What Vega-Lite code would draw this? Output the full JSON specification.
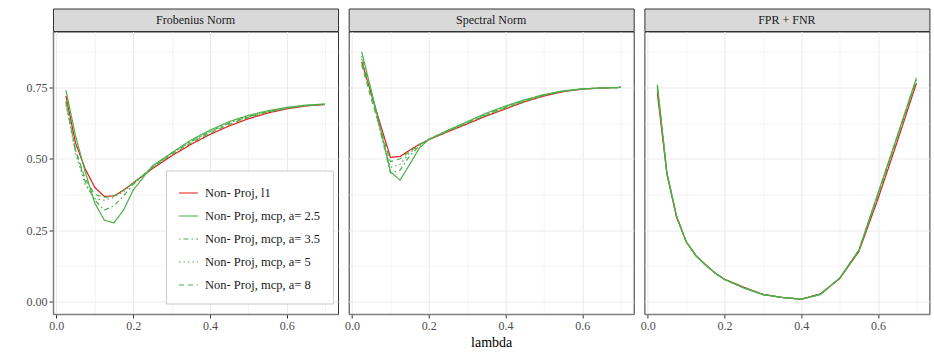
{
"$schema": "https://vega.github.io/schema/vega-lite/v6.json",
"padding": {"left": 25, "top": 7.5, "right": 5, "bottom": 5},
"background": "white",
"config": {
  "font": "Liberation Serif",
  "axis": {"labelFont": "Liberation Serif", "labelFontSize": 12, "labelColor": "#4d4d4d", "tickColor": "#333333", "tickSize": 4, "tickWidth": 1, "labelPadding": 2, "domainColor": "#7f7f7f", "domainWidth": 1.5, "gridColor": "#ebebeb", "titleFont": "Liberation Serif", "titleFontSize": 14, "titleColor": "#000000", "titleFontWeight": "normal", "labelFlush": false, "labelOverlap": false, "titlePadding": 4},
  "view": {"stroke": "#333333", "strokeWidth": 1},
  "line": {"strokeWidth": 1.2}
},
"datasets": {
  "d": [
{"p":"Frobenius Norm","m":"Non- Proj, l1","x":0.025,"y":0.72},
{"p":"Frobenius Norm","m":"Non- Proj, l1","x":0.05,"y":0.555},
{"p":"Frobenius Norm","m":"Non- Proj, l1","x":0.075,"y":0.465},
{"p":"Frobenius Norm","m":"Non- Proj, l1","x":0.1,"y":0.40},
{"p":"Frobenius Norm","m":"Non- Proj, l1","x":0.125,"y":0.368},
{"p":"Frobenius Norm","m":"Non- Proj, l1","x":0.15,"y":0.37},
{"p":"Frobenius Norm","m":"Non- Proj, l1","x":0.175,"y":0.39},
{"p":"Frobenius Norm","m":"Non- Proj, l1","x":0.2,"y":0.415},
{"p":"Frobenius Norm","m":"Non- Proj, l1","x":0.25,"y":0.465},
{"p":"Frobenius Norm","m":"Non- Proj, l1","x":0.3,"y":0.51},
{"p":"Frobenius Norm","m":"Non- Proj, l1","x":0.35,"y":0.55},
{"p":"Frobenius Norm","m":"Non- Proj, l1","x":0.4,"y":0.585},
{"p":"Frobenius Norm","m":"Non- Proj, l1","x":0.45,"y":0.615},
{"p":"Frobenius Norm","m":"Non- Proj, l1","x":0.5,"y":0.64},
{"p":"Frobenius Norm","m":"Non- Proj, l1","x":0.55,"y":0.66},
{"p":"Frobenius Norm","m":"Non- Proj, l1","x":0.6,"y":0.675},
{"p":"Frobenius Norm","m":"Non- Proj, l1","x":0.65,"y":0.685},
{"p":"Frobenius Norm","m":"Non- Proj, l1","x":0.7,"y":0.69},
{"p":"Frobenius Norm","m":"Non- Proj, mcp, a= 2.5","x":0.025,"y":0.74},
{"p":"Frobenius Norm","m":"Non- Proj, mcp, a= 2.5","x":0.05,"y":0.58},
{"p":"Frobenius Norm","m":"Non- Proj, mcp, a= 2.5","x":0.075,"y":0.455},
{"p":"Frobenius Norm","m":"Non- Proj, mcp, a= 2.5","x":0.1,"y":0.345},
{"p":"Frobenius Norm","m":"Non- Proj, mcp, a= 2.5","x":0.125,"y":0.285},
{"p":"Frobenius Norm","m":"Non- Proj, mcp, a= 2.5","x":0.15,"y":0.275},
{"p":"Frobenius Norm","m":"Non- Proj, mcp, a= 2.5","x":0.175,"y":0.32},
{"p":"Frobenius Norm","m":"Non- Proj, mcp, a= 2.5","x":0.2,"y":0.39},
{"p":"Frobenius Norm","m":"Non- Proj, mcp, a= 2.5","x":0.25,"y":0.475},
{"p":"Frobenius Norm","m":"Non- Proj, mcp, a= 2.5","x":0.3,"y":0.52},
{"p":"Frobenius Norm","m":"Non- Proj, mcp, a= 2.5","x":0.35,"y":0.565},
{"p":"Frobenius Norm","m":"Non- Proj, mcp, a= 2.5","x":0.4,"y":0.60},
{"p":"Frobenius Norm","m":"Non- Proj, mcp, a= 2.5","x":0.45,"y":0.63},
{"p":"Frobenius Norm","m":"Non- Proj, mcp, a= 2.5","x":0.5,"y":0.652},
{"p":"Frobenius Norm","m":"Non- Proj, mcp, a= 2.5","x":0.55,"y":0.668},
{"p":"Frobenius Norm","m":"Non- Proj, mcp, a= 2.5","x":0.6,"y":0.68},
{"p":"Frobenius Norm","m":"Non- Proj, mcp, a= 2.5","x":0.65,"y":0.688},
{"p":"Frobenius Norm","m":"Non- Proj, mcp, a= 2.5","x":0.7,"y":0.692},
{"p":"Frobenius Norm","m":"Non- Proj, mcp, a= 3.5","x":0.025,"y":0.70},
{"p":"Frobenius Norm","m":"Non- Proj, mcp, a= 3.5","x":0.05,"y":0.53},
{"p":"Frobenius Norm","m":"Non- Proj, mcp, a= 3.5","x":0.075,"y":0.42},
{"p":"Frobenius Norm","m":"Non- Proj, mcp, a= 3.5","x":0.1,"y":0.355},
{"p":"Frobenius Norm","m":"Non- Proj, mcp, a= 3.5","x":0.125,"y":0.32},
{"p":"Frobenius Norm","m":"Non- Proj, mcp, a= 3.5","x":0.15,"y":0.335},
{"p":"Frobenius Norm","m":"Non- Proj, mcp, a= 3.5","x":0.175,"y":0.37},
{"p":"Frobenius Norm","m":"Non- Proj, mcp, a= 3.5","x":0.2,"y":0.41},
{"p":"Frobenius Norm","m":"Non- Proj, mcp, a= 3.5","x":0.25,"y":0.47},
{"p":"Frobenius Norm","m":"Non- Proj, mcp, a= 3.5","x":0.3,"y":0.52},
{"p":"Frobenius Norm","m":"Non- Proj, mcp, a= 3.5","x":0.35,"y":0.56},
{"p":"Frobenius Norm","m":"Non- Proj, mcp, a= 3.5","x":0.4,"y":0.595},
{"p":"Frobenius Norm","m":"Non- Proj, mcp, a= 3.5","x":0.45,"y":0.625},
{"p":"Frobenius Norm","m":"Non- Proj, mcp, a= 3.5","x":0.5,"y":0.648},
{"p":"Frobenius Norm","m":"Non- Proj, mcp, a= 3.5","x":0.55,"y":0.665},
{"p":"Frobenius Norm","m":"Non- Proj, mcp, a= 3.5","x":0.6,"y":0.678},
{"p":"Frobenius Norm","m":"Non- Proj, mcp, a= 3.5","x":0.65,"y":0.686},
{"p":"Frobenius Norm","m":"Non- Proj, mcp, a= 3.5","x":0.7,"y":0.691},
{"p":"Frobenius Norm","m":"Non- Proj, mcp, a= 5","x":0.025,"y":0.69},
{"p":"Frobenius Norm","m":"Non- Proj, mcp, a= 5","x":0.05,"y":0.52},
{"p":"Frobenius Norm","m":"Non- Proj, mcp, a= 5","x":0.075,"y":0.41},
{"p":"Frobenius Norm","m":"Non- Proj, mcp, a= 5","x":0.1,"y":0.36},
{"p":"Frobenius Norm","m":"Non- Proj, mcp, a= 5","x":0.125,"y":0.355},
{"p":"Frobenius Norm","m":"Non- Proj, mcp, a= 5","x":0.15,"y":0.365},
{"p":"Frobenius Norm","m":"Non- Proj, mcp, a= 5","x":0.175,"y":0.385},
{"p":"Frobenius Norm","m":"Non- Proj, mcp, a= 5","x":0.2,"y":0.415},
{"p":"Frobenius Norm","m":"Non- Proj, mcp, a= 5","x":0.25,"y":0.47},
{"p":"Frobenius Norm","m":"Non- Proj, mcp, a= 5","x":0.3,"y":0.518},
{"p":"Frobenius Norm","m":"Non- Proj, mcp, a= 5","x":0.35,"y":0.56},
{"p":"Frobenius Norm","m":"Non- Proj, mcp, a= 5","x":0.4,"y":0.595},
{"p":"Frobenius Norm","m":"Non- Proj, mcp, a= 5","x":0.45,"y":0.625},
{"p":"Frobenius Norm","m":"Non- Proj, mcp, a= 5","x":0.5,"y":0.648},
{"p":"Frobenius Norm","m":"Non- Proj, mcp, a= 5","x":0.55,"y":0.665},
{"p":"Frobenius Norm","m":"Non- Proj, mcp, a= 5","x":0.6,"y":0.678},
{"p":"Frobenius Norm","m":"Non- Proj, mcp, a= 5","x":0.65,"y":0.686},
{"p":"Frobenius Norm","m":"Non- Proj, mcp, a= 5","x":0.7,"y":0.691},
{"p":"Frobenius Norm","m":"Non- Proj, mcp, a= 8","x":0.025,"y":0.70},
{"p":"Frobenius Norm","m":"Non- Proj, mcp, a= 8","x":0.05,"y":0.53},
{"p":"Frobenius Norm","m":"Non- Proj, mcp, a= 8","x":0.075,"y":0.43},
{"p":"Frobenius Norm","m":"Non- Proj, mcp, a= 8","x":0.1,"y":0.375},
{"p":"Frobenius Norm","m":"Non- Proj, mcp, a= 8","x":0.125,"y":0.365},
{"p":"Frobenius Norm","m":"Non- Proj, mcp, a= 8","x":0.15,"y":0.37},
{"p":"Frobenius Norm","m":"Non- Proj, mcp, a= 8","x":0.175,"y":0.39},
{"p":"Frobenius Norm","m":"Non- Proj, mcp, a= 8","x":0.2,"y":0.415},
{"p":"Frobenius Norm","m":"Non- Proj, mcp, a= 8","x":0.25,"y":0.468},
{"p":"Frobenius Norm","m":"Non- Proj, mcp, a= 8","x":0.3,"y":0.515},
{"p":"Frobenius Norm","m":"Non- Proj, mcp, a= 8","x":0.35,"y":0.555},
{"p":"Frobenius Norm","m":"Non- Proj, mcp, a= 8","x":0.4,"y":0.59},
{"p":"Frobenius Norm","m":"Non- Proj, mcp, a= 8","x":0.45,"y":0.62},
{"p":"Frobenius Norm","m":"Non- Proj, mcp, a= 8","x":0.5,"y":0.645},
{"p":"Frobenius Norm","m":"Non- Proj, mcp, a= 8","x":0.55,"y":0.663},
{"p":"Frobenius Norm","m":"Non- Proj, mcp, a= 8","x":0.6,"y":0.677},
{"p":"Frobenius Norm","m":"Non- Proj, mcp, a= 8","x":0.65,"y":0.686},
{"p":"Frobenius Norm","m":"Non- Proj, mcp, a= 8","x":0.7,"y":0.691},
{"p":"Spectral Norm","m":"Non- Proj, l1","x":0.025,"y":0.84},
{"p":"Spectral Norm","m":"Non- Proj, l1","x":0.05,"y":0.728},
{"p":"Spectral Norm","m":"Non- Proj, l1","x":0.075,"y":0.615},
{"p":"Spectral Norm","m":"Non- Proj, l1","x":0.1,"y":0.505},
{"p":"Spectral Norm","m":"Non- Proj, l1","x":0.125,"y":0.508},
{"p":"Spectral Norm","m":"Non- Proj, l1","x":0.15,"y":0.53},
{"p":"Spectral Norm","m":"Non- Proj, l1","x":0.175,"y":0.55},
{"p":"Spectral Norm","m":"Non- Proj, l1","x":0.2,"y":0.567},
{"p":"Spectral Norm","m":"Non- Proj, l1","x":0.25,"y":0.595},
{"p":"Spectral Norm","m":"Non- Proj, l1","x":0.3,"y":0.622},
{"p":"Spectral Norm","m":"Non- Proj, l1","x":0.35,"y":0.65},
{"p":"Spectral Norm","m":"Non- Proj, l1","x":0.4,"y":0.675},
{"p":"Spectral Norm","m":"Non- Proj, l1","x":0.45,"y":0.70},
{"p":"Spectral Norm","m":"Non- Proj, l1","x":0.5,"y":0.72},
{"p":"Spectral Norm","m":"Non- Proj, l1","x":0.55,"y":0.735},
{"p":"Spectral Norm","m":"Non- Proj, l1","x":0.6,"y":0.744},
{"p":"Spectral Norm","m":"Non- Proj, l1","x":0.65,"y":0.748},
{"p":"Spectral Norm","m":"Non- Proj, l1","x":0.7,"y":0.75},
{"p":"Spectral Norm","m":"Non- Proj, mcp, a= 2.5","x":0.025,"y":0.875},
{"p":"Spectral Norm","m":"Non- Proj, mcp, a= 2.5","x":0.05,"y":0.74},
{"p":"Spectral Norm","m":"Non- Proj, mcp, a= 2.5","x":0.075,"y":0.60},
{"p":"Spectral Norm","m":"Non- Proj, mcp, a= 2.5","x":0.1,"y":0.455},
{"p":"Spectral Norm","m":"Non- Proj, mcp, a= 2.5","x":0.125,"y":0.425},
{"p":"Spectral Norm","m":"Non- Proj, mcp, a= 2.5","x":0.15,"y":0.48},
{"p":"Spectral Norm","m":"Non- Proj, mcp, a= 2.5","x":0.175,"y":0.537},
{"p":"Spectral Norm","m":"Non- Proj, mcp, a= 2.5","x":0.2,"y":0.568},
{"p":"Spectral Norm","m":"Non- Proj, mcp, a= 2.5","x":0.25,"y":0.60},
{"p":"Spectral Norm","m":"Non- Proj, mcp, a= 2.5","x":0.3,"y":0.63},
{"p":"Spectral Norm","m":"Non- Proj, mcp, a= 2.5","x":0.35,"y":0.66},
{"p":"Spectral Norm","m":"Non- Proj, mcp, a= 2.5","x":0.4,"y":0.685},
{"p":"Spectral Norm","m":"Non- Proj, mcp, a= 2.5","x":0.45,"y":0.707},
{"p":"Spectral Norm","m":"Non- Proj, mcp, a= 2.5","x":0.5,"y":0.725},
{"p":"Spectral Norm","m":"Non- Proj, mcp, a= 2.5","x":0.55,"y":0.738},
{"p":"Spectral Norm","m":"Non- Proj, mcp, a= 2.5","x":0.6,"y":0.745},
{"p":"Spectral Norm","m":"Non- Proj, mcp, a= 2.5","x":0.65,"y":0.748},
{"p":"Spectral Norm","m":"Non- Proj, mcp, a= 2.5","x":0.7,"y":0.75},
{"p":"Spectral Norm","m":"Non- Proj, mcp, a= 3.5","x":0.025,"y":0.86},
{"p":"Spectral Norm","m":"Non- Proj, mcp, a= 3.5","x":0.05,"y":0.73},
{"p":"Spectral Norm","m":"Non- Proj, mcp, a= 3.5","x":0.075,"y":0.59},
{"p":"Spectral Norm","m":"Non- Proj, mcp, a= 3.5","x":0.1,"y":0.45},
{"p":"Spectral Norm","m":"Non- Proj, mcp, a= 3.5","x":0.125,"y":0.46},
{"p":"Spectral Norm","m":"Non- Proj, mcp, a= 3.5","x":0.15,"y":0.51},
{"p":"Spectral Norm","m":"Non- Proj, mcp, a= 3.5","x":0.175,"y":0.545},
{"p":"Spectral Norm","m":"Non- Proj, mcp, a= 3.5","x":0.2,"y":0.568},
{"p":"Spectral Norm","m":"Non- Proj, mcp, a= 3.5","x":0.25,"y":0.60},
{"p":"Spectral Norm","m":"Non- Proj, mcp, a= 3.5","x":0.3,"y":0.628},
{"p":"Spectral Norm","m":"Non- Proj, mcp, a= 3.5","x":0.35,"y":0.657},
{"p":"Spectral Norm","m":"Non- Proj, mcp, a= 3.5","x":0.4,"y":0.682},
{"p":"Spectral Norm","m":"Non- Proj, mcp, a= 3.5","x":0.45,"y":0.705},
{"p":"Spectral Norm","m":"Non- Proj, mcp, a= 3.5","x":0.5,"y":0.724},
{"p":"Spectral Norm","m":"Non- Proj, mcp, a= 3.5","x":0.55,"y":0.737},
{"p":"Spectral Norm","m":"Non- Proj, mcp, a= 3.5","x":0.6,"y":0.745},
{"p":"Spectral Norm","m":"Non- Proj, mcp, a= 3.5","x":0.65,"y":0.748},
{"p":"Spectral Norm","m":"Non- Proj, mcp, a= 3.5","x":0.7,"y":0.75},
{"p":"Spectral Norm","m":"Non- Proj, mcp, a= 5","x":0.025,"y":0.85},
{"p":"Spectral Norm","m":"Non- Proj, mcp, a= 5","x":0.05,"y":0.72},
{"p":"Spectral Norm","m":"Non- Proj, mcp, a= 5","x":0.075,"y":0.59},
{"p":"Spectral Norm","m":"Non- Proj, mcp, a= 5","x":0.1,"y":0.47},
{"p":"Spectral Norm","m":"Non- Proj, mcp, a= 5","x":0.125,"y":0.48},
{"p":"Spectral Norm","m":"Non- Proj, mcp, a= 5","x":0.15,"y":0.52},
{"p":"Spectral Norm","m":"Non- Proj, mcp, a= 5","x":0.175,"y":0.548},
{"p":"Spectral Norm","m":"Non- Proj, mcp, a= 5","x":0.2,"y":0.568},
{"p":"Spectral Norm","m":"Non- Proj, mcp, a= 5","x":0.25,"y":0.598},
{"p":"Spectral Norm","m":"Non- Proj, mcp, a= 5","x":0.3,"y":0.627},
{"p":"Spectral Norm","m":"Non- Proj, mcp, a= 5","x":0.35,"y":0.655},
{"p":"Spectral Norm","m":"Non- Proj, mcp, a= 5","x":0.4,"y":0.68},
{"p":"Spectral Norm","m":"Non- Proj, mcp, a= 5","x":0.45,"y":0.703},
{"p":"Spectral Norm","m":"Non- Proj, mcp, a= 5","x":0.5,"y":0.723},
{"p":"Spectral Norm","m":"Non- Proj, mcp, a= 5","x":0.55,"y":0.737},
{"p":"Spectral Norm","m":"Non- Proj, mcp, a= 5","x":0.6,"y":0.745},
{"p":"Spectral Norm","m":"Non- Proj, mcp, a= 5","x":0.65,"y":0.748},
{"p":"Spectral Norm","m":"Non- Proj, mcp, a= 5","x":0.7,"y":0.75},
{"p":"Spectral Norm","m":"Non- Proj, mcp, a= 8","x":0.025,"y":0.83},
{"p":"Spectral Norm","m":"Non- Proj, mcp, a= 8","x":0.05,"y":0.71},
{"p":"Spectral Norm","m":"Non- Proj, mcp, a= 8","x":0.075,"y":0.60},
{"p":"Spectral Norm","m":"Non- Proj, mcp, a= 8","x":0.1,"y":0.49},
{"p":"Spectral Norm","m":"Non- Proj, mcp, a= 8","x":0.125,"y":0.50},
{"p":"Spectral Norm","m":"Non- Proj, mcp, a= 8","x":0.15,"y":0.525},
{"p":"Spectral Norm","m":"Non- Proj, mcp, a= 8","x":0.175,"y":0.55},
{"p":"Spectral Norm","m":"Non- Proj, mcp, a= 8","x":0.2,"y":0.568},
{"p":"Spectral Norm","m":"Non- Proj, mcp, a= 8","x":0.25,"y":0.597},
{"p":"Spectral Norm","m":"Non- Proj, mcp, a= 8","x":0.3,"y":0.625},
{"p":"Spectral Norm","m":"Non- Proj, mcp, a= 8","x":0.35,"y":0.653},
{"p":"Spectral Norm","m":"Non- Proj, mcp, a= 8","x":0.4,"y":0.678},
{"p":"Spectral Norm","m":"Non- Proj, mcp, a= 8","x":0.45,"y":0.702},
{"p":"Spectral Norm","m":"Non- Proj, mcp, a= 8","x":0.5,"y":0.722},
{"p":"Spectral Norm","m":"Non- Proj, mcp, a= 8","x":0.55,"y":0.736},
{"p":"Spectral Norm","m":"Non- Proj, mcp, a= 8","x":0.6,"y":0.744},
{"p":"Spectral Norm","m":"Non- Proj, mcp, a= 8","x":0.65,"y":0.748},
{"p":"Spectral Norm","m":"Non- Proj, mcp, a= 8","x":0.7,"y":0.75},
{"p":"FPR + FNR","m":"Non- Proj, l1","x":0.025,"y":0.73},
{"p":"FPR + FNR","m":"Non- Proj, l1","x":0.05,"y":0.445},
{"p":"FPR + FNR","m":"Non- Proj, l1","x":0.075,"y":0.295},
{"p":"FPR + FNR","m":"Non- Proj, l1","x":0.1,"y":0.21},
{"p":"FPR + FNR","m":"Non- Proj, l1","x":0.125,"y":0.162},
{"p":"FPR + FNR","m":"Non- Proj, l1","x":0.15,"y":0.13},
{"p":"FPR + FNR","m":"Non- Proj, l1","x":0.175,"y":0.10},
{"p":"FPR + FNR","m":"Non- Proj, l1","x":0.2,"y":0.078},
{"p":"FPR + FNR","m":"Non- Proj, l1","x":0.25,"y":0.05},
{"p":"FPR + FNR","m":"Non- Proj, l1","x":0.3,"y":0.025},
{"p":"FPR + FNR","m":"Non- Proj, l1","x":0.35,"y":0.014},
{"p":"FPR + FNR","m":"Non- Proj, l1","x":0.4,"y":0.008},
{"p":"FPR + FNR","m":"Non- Proj, l1","x":0.45,"y":0.027},
{"p":"FPR + FNR","m":"Non- Proj, l1","x":0.5,"y":0.08},
{"p":"FPR + FNR","m":"Non- Proj, l1","x":0.55,"y":0.175},
{"p":"FPR + FNR","m":"Non- Proj, l1","x":0.6,"y":0.36},
{"p":"FPR + FNR","m":"Non- Proj, l1","x":0.65,"y":0.56},
{"p":"FPR + FNR","m":"Non- Proj, l1","x":0.7,"y":0.765},
{"p":"FPR + FNR","m":"Non- Proj, mcp, a= 2.5","x":0.025,"y":0.76},
{"p":"FPR + FNR","m":"Non- Proj, mcp, a= 2.5","x":0.05,"y":0.45},
{"p":"FPR + FNR","m":"Non- Proj, mcp, a= 2.5","x":0.075,"y":0.30},
{"p":"FPR + FNR","m":"Non- Proj, mcp, a= 2.5","x":0.1,"y":0.21},
{"p":"FPR + FNR","m":"Non- Proj, mcp, a= 2.5","x":0.125,"y":0.16},
{"p":"FPR + FNR","m":"Non- Proj, mcp, a= 2.5","x":0.15,"y":0.128},
{"p":"FPR + FNR","m":"Non- Proj, mcp, a= 2.5","x":0.175,"y":0.10},
{"p":"FPR + FNR","m":"Non- Proj, mcp, a= 2.5","x":0.2,"y":0.077},
{"p":"FPR + FNR","m":"Non- Proj, mcp, a= 2.5","x":0.25,"y":0.047},
{"p":"FPR + FNR","m":"Non- Proj, mcp, a= 2.5","x":0.3,"y":0.024},
{"p":"FPR + FNR","m":"Non- Proj, mcp, a= 2.5","x":0.35,"y":0.014},
{"p":"FPR + FNR","m":"Non- Proj, mcp, a= 2.5","x":0.4,"y":0.008},
{"p":"FPR + FNR","m":"Non- Proj, mcp, a= 2.5","x":0.45,"y":0.024},
{"p":"FPR + FNR","m":"Non- Proj, mcp, a= 2.5","x":0.5,"y":0.082},
{"p":"FPR + FNR","m":"Non- Proj, mcp, a= 2.5","x":0.55,"y":0.18},
{"p":"FPR + FNR","m":"Non- Proj, mcp, a= 2.5","x":0.6,"y":0.38},
{"p":"FPR + FNR","m":"Non- Proj, mcp, a= 2.5","x":0.65,"y":0.58},
{"p":"FPR + FNR","m":"Non- Proj, mcp, a= 2.5","x":0.7,"y":0.783},
{"p":"FPR + FNR","m":"Non- Proj, mcp, a= 3.5","x":0.025,"y":0.755},
{"p":"FPR + FNR","m":"Non- Proj, mcp, a= 3.5","x":0.05,"y":0.45},
{"p":"FPR + FNR","m":"Non- Proj, mcp, a= 3.5","x":0.075,"y":0.30},
{"p":"FPR + FNR","m":"Non- Proj, mcp, a= 3.5","x":0.1,"y":0.21},
{"p":"FPR + FNR","m":"Non- Proj, mcp, a= 3.5","x":0.125,"y":0.161},
{"p":"FPR + FNR","m":"Non- Proj, mcp, a= 3.5","x":0.15,"y":0.128},
{"p":"FPR + FNR","m":"Non- Proj, mcp, a= 3.5","x":0.175,"y":0.10},
{"p":"FPR + FNR","m":"Non- Proj, mcp, a= 3.5","x":0.2,"y":0.077},
{"p":"FPR + FNR","m":"Non- Proj, mcp, a= 3.5","x":0.25,"y":0.048},
{"p":"FPR + FNR","m":"Non- Proj, mcp, a= 3.5","x":0.3,"y":0.024},
{"p":"FPR + FNR","m":"Non- Proj, mcp, a= 3.5","x":0.35,"y":0.014},
{"p":"FPR + FNR","m":"Non- Proj, mcp, a= 3.5","x":0.4,"y":0.008},
{"p":"FPR + FNR","m":"Non- Proj, mcp, a= 3.5","x":0.45,"y":0.025},
{"p":"FPR + FNR","m":"Non- Proj, mcp, a= 3.5","x":0.5,"y":0.082},
{"p":"FPR + FNR","m":"Non- Proj, mcp, a= 3.5","x":0.55,"y":0.18},
{"p":"FPR + FNR","m":"Non- Proj, mcp, a= 3.5","x":0.6,"y":0.378},
{"p":"FPR + FNR","m":"Non- Proj, mcp, a= 3.5","x":0.65,"y":0.578},
{"p":"FPR + FNR","m":"Non- Proj, mcp, a= 3.5","x":0.7,"y":0.78},
{"p":"FPR + FNR","m":"Non- Proj, mcp, a= 5","x":0.025,"y":0.75},
{"p":"FPR + FNR","m":"Non- Proj, mcp, a= 5","x":0.05,"y":0.448},
{"p":"FPR + FNR","m":"Non- Proj, mcp, a= 5","x":0.075,"y":0.298},
{"p":"FPR + FNR","m":"Non- Proj, mcp, a= 5","x":0.1,"y":0.21},
{"p":"FPR + FNR","m":"Non- Proj, mcp, a= 5","x":0.125,"y":0.161},
{"p":"FPR + FNR","m":"Non- Proj, mcp, a= 5","x":0.15,"y":0.129},
{"p":"FPR + FNR","m":"Non- Proj, mcp, a= 5","x":0.175,"y":0.10},
{"p":"FPR + FNR","m":"Non- Proj, mcp, a= 5","x":0.2,"y":0.077},
{"p":"FPR + FNR","m":"Non- Proj, mcp, a= 5","x":0.25,"y":0.048},
{"p":"FPR + FNR","m":"Non- Proj, mcp, a= 5","x":0.3,"y":0.024},
{"p":"FPR + FNR","m":"Non- Proj, mcp, a= 5","x":0.35,"y":0.014},
{"p":"FPR + FNR","m":"Non- Proj, mcp, a= 5","x":0.4,"y":0.008},
{"p":"FPR + FNR","m":"Non- Proj, mcp, a= 5","x":0.45,"y":0.025},
{"p":"FPR + FNR","m":"Non- Proj, mcp, a= 5","x":0.5,"y":0.081},
{"p":"FPR + FNR","m":"Non- Proj, mcp, a= 5","x":0.55,"y":0.178},
{"p":"FPR + FNR","m":"Non- Proj, mcp, a= 5","x":0.6,"y":0.375},
{"p":"FPR + FNR","m":"Non- Proj, mcp, a= 5","x":0.65,"y":0.575},
{"p":"FPR + FNR","m":"Non- Proj, mcp, a= 5","x":0.7,"y":0.778},
{"p":"FPR + FNR","m":"Non- Proj, mcp, a= 8","x":0.025,"y":0.745},
{"p":"FPR + FNR","m":"Non- Proj, mcp, a= 8","x":0.05,"y":0.447},
{"p":"FPR + FNR","m":"Non- Proj, mcp, a= 8","x":0.075,"y":0.297},
{"p":"FPR + FNR","m":"Non- Proj, mcp, a= 8","x":0.1,"y":0.21},
{"p":"FPR + FNR","m":"Non- Proj, mcp, a= 8","x":0.125,"y":0.161},
{"p":"FPR + FNR","m":"Non- Proj, mcp, a= 8","x":0.15,"y":0.129},
{"p":"FPR + FNR","m":"Non- Proj, mcp, a= 8","x":0.175,"y":0.10},
{"p":"FPR + FNR","m":"Non- Proj, mcp, a= 8","x":0.2,"y":0.077},
{"p":"FPR + FNR","m":"Non- Proj, mcp, a= 8","x":0.25,"y":0.049},
{"p":"FPR + FNR","m":"Non- Proj, mcp, a= 8","x":0.3,"y":0.024},
{"p":"FPR + FNR","m":"Non- Proj, mcp, a= 8","x":0.35,"y":0.014},
{"p":"FPR + FNR","m":"Non- Proj, mcp, a= 8","x":0.4,"y":0.008},
{"p":"FPR + FNR","m":"Non- Proj, mcp, a= 8","x":0.45,"y":0.026},
{"p":"FPR + FNR","m":"Non- Proj, mcp, a= 8","x":0.5,"y":0.081},
{"p":"FPR + FNR","m":"Non- Proj, mcp, a= 8","x":0.55,"y":0.177},
{"p":"FPR + FNR","m":"Non- Proj, mcp, a= 8","x":0.6,"y":0.372},
{"p":"FPR + FNR","m":"Non- Proj, mcp, a= 8","x":0.65,"y":0.572},
{"p":"FPR + FNR","m":"Non- Proj, mcp, a= 8","x":0.7,"y":0.775}
  ]
},
"spacing": 4.7,
"hconcat": [
  {
    "bounds": "flush", "spacing": 0,
    "vconcat": [
      {"data": {"values": [{"p": "Frobenius Norm"}]}, "width": 285, "height": 22.5,
       "view": {"fill": "#d9d9d9", "stroke": "#333333"},
       "mark": {"type": "text", "font": "Liberation Serif", "fontSize": 12, "color": "#1a1a1a", "baseline": "middle", "align": "center"},
       "encoding": {"text": {"field": "p"}}},
      {"data": {"name": "d"}, "width": 285, "height": 282.5,
       "transform": [{"filter": "datum.p == 'Frobenius Norm'"}],
       "mark": {"type": "line", "strokeWidth": 1.2},
       "encoding": {
         "x": {"field": "x", "type": "quantitative", "scale": {"domain": [-0.00875, 0.73375], "nice": false, "zero": false},
               "axis": {"title": null, "values": [0, 0.1, 0.2, 0.3, 0.4, 0.5, 0.6, 0.7],
                        "labelExpr": "round(datum.value*10)%2==0 ? format(datum.value,'.1f') : ''",
                        "tickOpacity": {"condition": {"test": "round(datum.value*10)%2==0", "value": 1}, "value": 0},
                        "gridWidth": {"condition": {"test": "round(datum.value*10)%2==0", "value": 1.1}, "value": 0.55}}},
         "y": {"field": "y", "type": "quantitative", "scale": {"domain": [-0.044, 0.946], "nice": false, "zero": false},
               "axis": {"title": null, "values": [0, 0.125, 0.25, 0.375, 0.5, 0.625, 0.75, 0.875],
                        "labelExpr": "round(datum.value*8)%2==0 ? format(datum.value,'.2f') : ''",
                        "tickOpacity": {"condition": {"test": "round(datum.value*8)%2==0", "value": 1}, "value": 0},
                        "gridWidth": {"condition": {"test": "round(datum.value*8)%2==0", "value": 1.1}, "value": 0.55}}},
         "color": {"field": "m", "type": "nominal", "title": null,
                   "scale": {"domain": ["Non- Proj, l1", "Non- Proj, mcp, a= 2.5", "Non- Proj, mcp, a= 3.5", "Non- Proj, mcp, a= 5", "Non- Proj, mcp, a= 8"],
                             "range": ["#E41A1C", "#4DAF4A", "#4DAF4A", "#4DAF4A", "#4DAF4A"]},
                   "legend": {"orient": "none", "legendX": 113, "legendY": 162, "fillColor": "white", "strokeColor": "#cccccc", "padding": 12,
                              "title": " ", "titleFontSize": 4, "titlePadding": 5.5,
                              "symbolType": "stroke", "symbolSize": 361, "symbolStrokeWidth": 2, "labelFont": "Liberation Serif", "labelFontSize": 12.5,
                              "labelColor": "#1a1a1a", "rowPadding": 6, "labelOffset": 6}},
         "strokeDash": {"field": "m", "type": "nominal", "title": null,
                   "scale": {"domain": ["Non- Proj, l1", "Non- Proj, mcp, a= 2.5", "Non- Proj, mcp, a= 3.5", "Non- Proj, mcp, a= 5", "Non- Proj, mcp, a= 8"],
                             "range": [[1, 0], [1, 0], [1.5, 3, 5, 3], [1.5, 3], [5, 4]]}}
       }}
    ]
  },
  {
    "bounds": "flush", "spacing": 0,
    "vconcat": [
      {"data": {"values": [{"p": "Spectral Norm"}]}, "width": 285, "height": 22.5,
       "view": {"fill": "#d9d9d9", "stroke": "#333333"},
       "mark": {"type": "text", "font": "Liberation Serif", "fontSize": 12, "color": "#1a1a1a", "baseline": "middle", "align": "center"},
       "encoding": {"text": {"field": "p"}}},
      {"data": {"name": "d"}, "width": 285, "height": 282.5,
       "transform": [{"filter": "datum.p == 'Spectral Norm'"}],
       "mark": {"type": "line", "strokeWidth": 1.2},
       "encoding": {
         "x": {"field": "x", "type": "quantitative", "scale": {"domain": [-0.00875, 0.73375], "nice": false, "zero": false},
               "axis": {"title": "lambda", "values": [0, 0.1, 0.2, 0.3, 0.4, 0.5, 0.6, 0.7],
                        "labelExpr": "round(datum.value*10)%2==0 ? format(datum.value,'.1f') : ''",
                        "tickOpacity": {"condition": {"test": "round(datum.value*10)%2==0", "value": 1}, "value": 0},
                        "gridWidth": {"condition": {"test": "round(datum.value*10)%2==0", "value": 1.1}, "value": 0.55}}},
         "y": {"field": "y", "type": "quantitative", "scale": {"domain": [-0.044, 0.946], "nice": false, "zero": false},
               "axis": {"title": null, "values": [0, 0.125, 0.25, 0.375, 0.5, 0.625, 0.75, 0.875], "labels": false, "ticks": false, "domain": false,
                        "gridWidth": {"condition": {"test": "round(datum.value*8)%2==0", "value": 1.1}, "value": 0.55}}},
         "color": {"field": "m", "type": "nominal", "title": null},
         "strokeDash": {"field": "m", "type": "nominal", "title": null}
       }}
    ]
  },
  {
    "bounds": "flush", "spacing": 0,
    "vconcat": [
      {"data": {"values": [{"p": "FPR + FNR"}]}, "width": 285, "height": 22.5,
       "view": {"fill": "#d9d9d9", "stroke": "#333333"},
       "mark": {"type": "text", "font": "Liberation Serif", "fontSize": 12, "color": "#1a1a1a", "baseline": "middle", "align": "center"},
       "encoding": {"text": {"field": "p"}}},
      {"data": {"name": "d"}, "width": 285, "height": 282.5,
       "transform": [{"filter": "datum.p == 'FPR + FNR'"}],
       "mark": {"type": "line", "strokeWidth": 1.2},
       "encoding": {
         "x": {"field": "x", "type": "quantitative", "scale": {"domain": [-0.00875, 0.73375], "nice": false, "zero": false},
               "axis": {"title": null, "values": [0, 0.1, 0.2, 0.3, 0.4, 0.5, 0.6, 0.7],
                        "labelExpr": "round(datum.value*10)%2==0 ? format(datum.value,'.1f') : ''",
                        "tickOpacity": {"condition": {"test": "round(datum.value*10)%2==0", "value": 1}, "value": 0},
                        "gridWidth": {"condition": {"test": "round(datum.value*10)%2==0", "value": 1.1}, "value": 0.55}}},
         "y": {"field": "y", "type": "quantitative", "scale": {"domain": [-0.044, 0.946], "nice": false, "zero": false},
               "axis": {"title": null, "values": [0, 0.125, 0.25, 0.375, 0.5, 0.625, 0.75, 0.875], "labels": false, "ticks": false, "domain": false,
                        "gridWidth": {"condition": {"test": "round(datum.value*8)%2==0", "value": 1.1}, "value": 0.55}}},
         "color": {"field": "m", "type": "nominal", "title": null},
         "strokeDash": {"field": "m", "type": "nominal", "title": null}
       }}
    ]
  }
]
}
